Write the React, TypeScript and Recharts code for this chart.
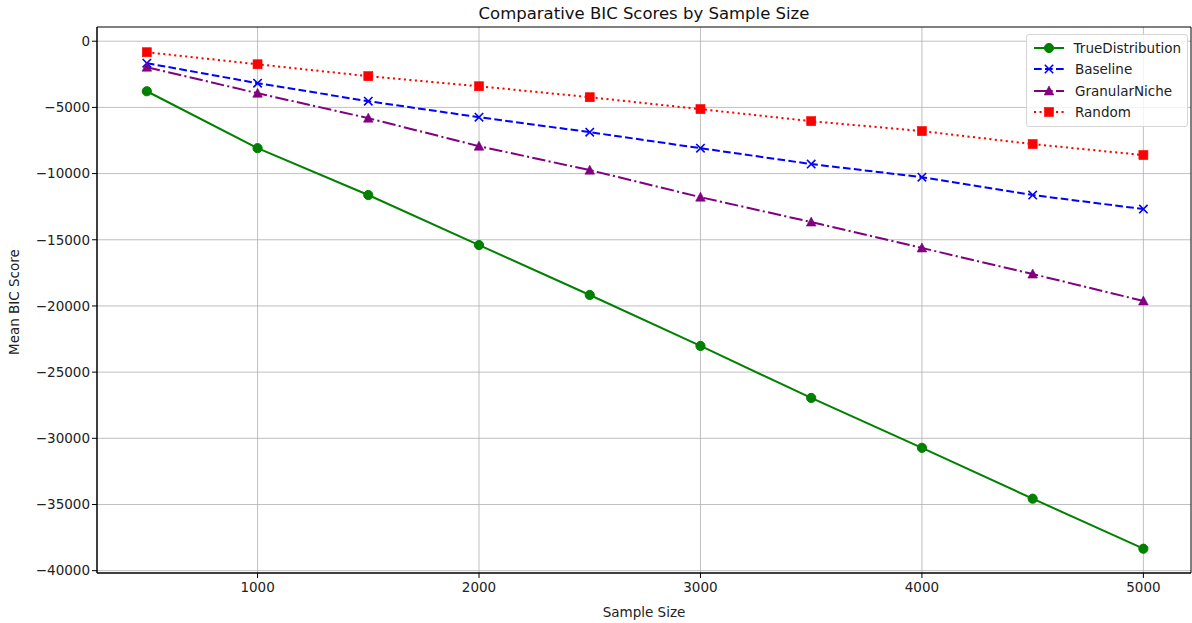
import React from 'react';
import {
  LineChart,
  Line,
  XAxis,
  YAxis,
  CartesianGrid,
  ReferenceArea,
} from 'recharts';

const sampleSizes = [500, 1000, 1500, 2000, 2500, 3000, 3500, 4000, 4500, 5000];
const trueDistribution = [-3780, -8080, -11620, -15400, -19170, -23020, -26950, -30720, -34560, -38340];
const baseline = [-1660, -3170, -4530, -5740, -6870, -8080, -9280, -10270, -11620, -12680];
const granularNiche = [-1960, -3930, -5810, -7930, -9740, -11780, -13660, -15620, -17590, -19620];
const randomScores = [-830, -1740, -2640, -3400, -4230, -5130, -6040, -6790, -7770, -8600];

const xTicks = [1000, 2000, 3000, 4000, 5000];
const yTicks = [0, -5000, -10000, -15000, -20000, -25000, -30000, -35000, -40000];

const data = sampleSizes.map((n, i) => ({
  n,
  TrueDistribution: trueDistribution[i],
  Baseline: baseline[i],
  GranularNiche: granularNiche[i],
  Random: randomScores[i],
}));

const X_DOMAIN: [number, number] = [275, 5215];
const Y_DOMAIN: [number, number] = [-40175, 1075];
const FONT = 'DejaVu Sans, sans-serif';

const fmt = (v: number) => (v < 0 ? '\u2212' + Math.abs(v) : String(v));

type Marker = 'circle' | 'x' | 'triangle' | 'square';

function drawMarker(kind: Marker, cx: number, cy: number, color: string, key?: string) {
  if (cx == null || cy == null) return <g key={key} />;
  if (kind === 'circle') return <circle key={key} cx={cx} cy={cy} r={4.6} fill={color} stroke={color} />;
  if (kind === 'square')
    return <rect key={key} x={cx - 4.5} y={cy - 4.5} width={9} height={9} fill={color} stroke={color} strokeWidth={0.6} />;
  if (kind === 'triangle')
    return (
      <polygon
        key={key}
        points={`${cx},${cy - 5} ${cx - 4.8},${cy + 4} ${cx + 4.8},${cy + 4}`}
        fill={color}
        stroke={color}
        strokeWidth={0.6}
      />
    );
  return (
    <path
      key={key}
      d={`M${cx - 4.2},${cy - 4.2}L${cx + 4.2},${cy + 4.2}M${cx - 4.2},${cy + 4.2}L${cx + 4.2},${cy - 4.2}`}
      stroke={color}
      strokeWidth={1.6}
      fill="none"
    />
  );
}

const series = [
  { key: 'TrueDistribution', color: 'green', dash: undefined, marker: 'circle' as Marker },
  { key: 'Baseline', color: 'blue', dash: '7.7 3.3', marker: 'x' as Marker },
  { key: 'GranularNiche', color: 'purple', dash: '13.3 3.3 2.1 3.3', marker: 'triangle' as Marker },
  { key: 'Random', color: 'red', dash: '2.1 3.4', marker: 'square' as Marker },
];

// legend is drawn as html on top of the chart, like matplotlib's upper right box
function LegendBox() {
  return (
    <div
      style={{
        position: 'absolute',
        top: 34,
        right: 4,
        border: '1px solid #d6d6d6',
        borderRadius: 3,
        background: 'rgba(255,255,255,0.8)',
        padding: '2px 6px 3px 6px',
        fontFamily: FONT,
        fontSize: 13.5,
        color: '#222',
        width: 148,
      }}
    >
      {series.map((s) => (
        <div key={s.key} style={{ display: 'flex', alignItems: 'center', height: 21.5 }}>
          <svg width={32} height={14} style={{ marginRight: 10 }}>
            <line x1={1} y1={7} x2={31} y2={7} stroke={s.color} strokeWidth={2} strokeDasharray={s.dash} />
            {drawMarker(s.marker, 16, 7, s.color)}
          </svg>
          <span>{s.key}</span>
        </div>
      ))}
    </div>
  );
}

export default function App() {
  return (
    <div style={{ position: 'absolute', left: 0, top: 0, width: 1192, height: 623, background: '#fff' }}>
      <div
        style={{
          position: 'absolute',
          top: 4,
          left: 97,
          width: 1094,
          textAlign: 'center',
          fontFamily: FONT,
          fontSize: 16.5,
          color: '#111',
        }}
      >
        Comparative BIC Scores by Sample Size
      </div>
      <LineChart width={1192} height={623} data={data} margin={{ top: 27, right: 1, bottom: 0, left: 0 }}>
        <CartesianGrid stroke="#b0b0b0" strokeWidth={0.8} horizontalValues={yTicks} verticalValues={xTicks} />
        <XAxis
          dataKey="n"
          type="number"
          domain={X_DOMAIN}
          ticks={xTicks}
          allowDataOverflow
          height={50}
          stroke="#000"
          tickSize={5}
          tick={{ fill: '#222', fontFamily: FONT, fontSize: 13.5, dy: 2 }}
          label={{ value: 'Sample Size', position: 'insideBottom', offset: 6, fill: '#222', fontFamily: FONT, fontSize: 13.5 }}
        />
        <YAxis
          type="number"
          domain={Y_DOMAIN}
          ticks={yTicks}
          allowDataOverflow
          width={97}
          stroke="#000"
          tickSize={5}
          tickFormatter={fmt}
          tick={{ fill: '#222', fontFamily: FONT, fontSize: 13.5 }}
          label={{
            value: 'Mean BIC Score',
            angle: -90,
            position: 'insideLeft',
            offset: 14,
            dy: 55,
            fill: '#222',
            fontFamily: FONT,
            fontSize: 13.5,
          }}
        />
        <ReferenceArea
          x1={X_DOMAIN[0]}
          x2={X_DOMAIN[1]}
          y1={Y_DOMAIN[0]}
          y2={Y_DOMAIN[1]}
          fill="none"
          stroke="#000"
          strokeWidth={1}
          fillOpacity={0}
        />
        {series.map((s) => (
          <Line
            key={s.key}
            dataKey={s.key}
            type="linear"
            stroke={s.color}
            strokeWidth={2}
            strokeDasharray={s.dash}
            isAnimationActive={false}
            dot={(p: any) => drawMarker(s.marker, p.cx, p.cy, s.color, `${s.key}-${p.index}`)}
            activeDot={false}
          />
        ))}
      </LineChart>
      <LegendBox />
    </div>
  );
}
